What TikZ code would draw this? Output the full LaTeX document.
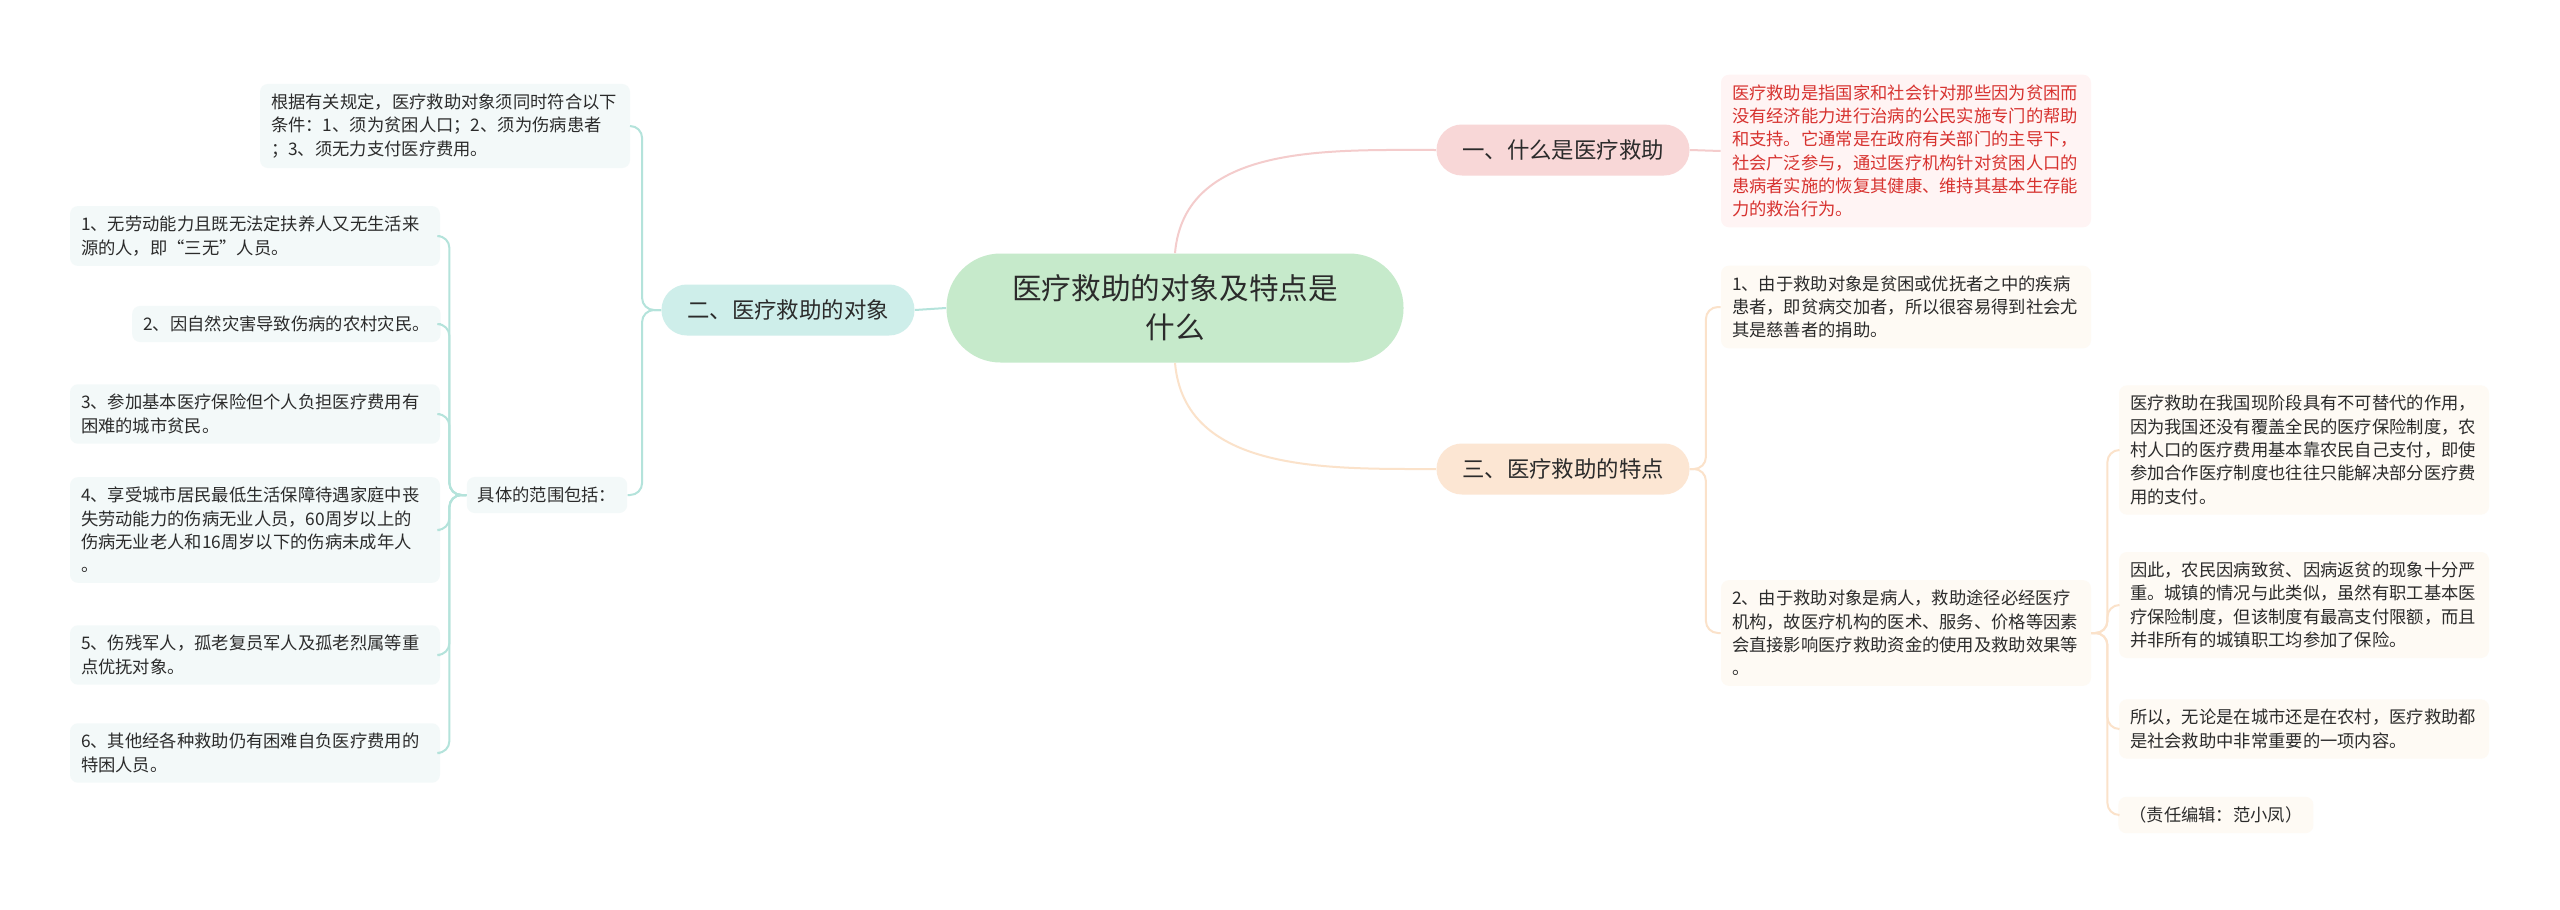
\documentclass[tikz,border=0pt]{standalone}
\usepackage{fontspec}
\setmainfont{Noto Sans CJK SC}
\definecolor{inkdark}{HTML}{2B2B2B}
\definecolor{rootfill}{HTML}{C6EACB}
\definecolor{tealfill}{HTML}{CEEEEA}
\definecolor{tealline}{HTML}{B4E3DB}
\definecolor{tealbox}{HTML}{F3F9F9}
\definecolor{pinkfill}{HTML}{F8D7D7}
\definecolor{pinkline}{HTML}{F4CCCC}
\definecolor{pinkbox}{HTML}{FFF4F4}
\definecolor{redink}{HTML}{D7322F}
\definecolor{peachfill}{HTML}{FCE6D3}
\definecolor{peachline}{HTML}{FBE2CA}
\definecolor{peachbox}{HTML}{FEFAF4}
\begin{document}
\begin{tikzpicture}
            \tikzset{x=0.5pt, y=-0.5pt}
            \tikzstyle{root}=[rectangle, fill=rootfill, text=inkdark, minimum width=228.5pt, minimum height=54.5pt, rounded corners=27pt, align=center, font=\fontsize{14.8pt}{19.5pt}\selectfont]
            \tikzstyle{branch}=[rectangle, text=inkdark, minimum width=126.5pt, minimum height=25.5pt, rounded corners=12.7pt, font=\fontsize{11.2pt}{14pt}\selectfont]
            \tikzstyle{leaf}=[rectangle, text=inkdark, rounded corners=4pt, inner xsep=5.5pt, inner ysep=5pt, align=left, font=\fontsize{8.65pt}{11.65pt}\selectfont]
            \tikzstyle{wide}=[text width=174pt]
            \tikzstyle{link}=[line width=1pt, rounded corners=6pt]

            \useasboundingbox[fill=white] (0, 0) rectangle (2560, 910);

            \draw (1175, 308)   node[root]                  (root)  {医疗救助的对象及特点是\\什么};
            \draw (788, 310)    node[branch, fill=tealfill] (b2)    {二、医疗救助的对象};
            \draw (1563, 150)   node[branch, fill=pinkfill] (b1)    {一、什么是医疗救助};
            \draw (1563, 469)   node[branch, fill=peachfill](b3)    {三、医疗救助的特点};

            \draw (445, 126)    node[leaf, wide, fill=tealbox]  (cond)  {根据有关规定，医疗救助对象须同时符合以下\\条件：1、须为贫困人口；2、须为伤病患者\\；3、须无力支付医疗费用。};
            \draw (547, 495)    node[leaf, fill=tealbox]        (range) {具体的范围包括：};
            \draw (255, 236)    node[leaf, wide, fill=tealbox]  (o1)    {1、无劳动能力且既无法定扶养人又无生活来\\源的人，即“三无”人员。};
            \draw (441, 324)    node[leaf, fill=tealbox, anchor=east] (o2) {2、因自然灾害导致伤病的农村灾民。};
            \draw (255, 414)    node[leaf, wide, fill=tealbox]  (o3)    {3、参加基本医疗保险但个人负担医疗费用有\\困难的城市贫民。};
            \draw (255, 530)    node[leaf, wide, fill=tealbox]  (o4)    {4、享受城市居民最低生活保障待遇家庭中丧\\失劳动能力的伤病无业人员，60周岁以上的\\伤病无业老人和16周岁以下的伤病未成年人\\。};
            \draw (255, 655)    node[leaf, wide, fill=tealbox]  (o5)    {5、伤残军人，孤老复员军人及孤老烈属等重\\点优抚对象。};
            \draw (255, 753)    node[leaf, wide, fill=tealbox]  (o6)    {6、其他经各种救助仍有困难自负医疗费用的\\特困人员。};

            \draw (1906, 151)   node[leaf, wide, fill=pinkbox, text=redink] (def) {医疗救助是指国家和社会针对那些因为贫困而\\没有经济能力进行治病的公民实施专门的帮助\\和支持。它通常是在政府有关部门的主导下，\\社会广泛参与，通过医疗机构针对贫困人口的\\患病者实施的恢复其健康、维持其基本生存能\\力的救治行为。};

            \draw (1906, 307)   node[leaf, wide, fill=peachbox] (f1)    {1、由于救助对象是贫困或优抚者之中的疾病\\患者，即贫病交加者，所以很容易得到社会尤\\其是慈善者的捐助。};
            \draw (1906, 633)   node[leaf, wide, fill=peachbox] (f2)    {2、由于救助对象是病人，救助途径必经医疗\\机构，故医疗机构的医术、服务、价格等因素\\会直接影响医疗救助资金的使用及救助效果等\\。};
            \draw (2304, 450)   node[leaf, wide, fill=peachbox] (r1)    {医疗救助在我国现阶段具有不可替代的作用，\\因为我国还没有覆盖全民的医疗保险制度，农\\村人口的医疗费用基本靠农民自己支付，即使\\参加合作医疗制度也往往只能解决部分医疗费\\用的支付。};
            \draw (2304, 605)   node[leaf, wide, fill=peachbox] (r2)    {因此，农民因病致贫、因病返贫的现象十分严\\重。城镇的情况与此类似，虽然有职工基本医\\疗保险制度，但该制度有最高支付限额，而且\\并非所有的城镇职工均参加了保险。};
            \draw (2304, 729)   node[leaf, wide, fill=peachbox] (r3)    {所以，无论是在城市还是在农村，医疗救助都\\是社会救助中非常重要的一项内容。};
            \draw (2118, 815)   node[leaf, fill=peachbox, anchor=west] (r4) {（责任编辑：范小凤）};

            \draw [link, tealline]  (root.west) -- (b2.east);
            \draw [link, tealline]  (b2.west) -- ++(-19, 0) |- (cond.east);
            \draw [link, tealline]  (b2.west) -- ++(-19, 0) |- (range.east);
            \foreach \n in {o1, o2, o3, o4, o5, o6}
                \draw [link, tealline]  (range.west) -- ++(-17, 0) |- (\n.east);

            \draw [link, pinkline]  (root.north) to[out=85, in=180] (b1.west);
            \draw [link, pinkline]  (b1.east) -- (def.west);

            \draw [link, peachline] (root.south) to[out=-85, in=180] (b3.west);
            \foreach \n in {f1, f2}
                \draw [link, peachline] (b3.east) -- ++(16, 0) |- (\n.west);
            \foreach \n in {r1, r2, r3, r4}
                \draw [link, peachline] (f2.east) -- ++(16, 0) |- (\n.west);
        \end{tikzpicture}
\end{document}
